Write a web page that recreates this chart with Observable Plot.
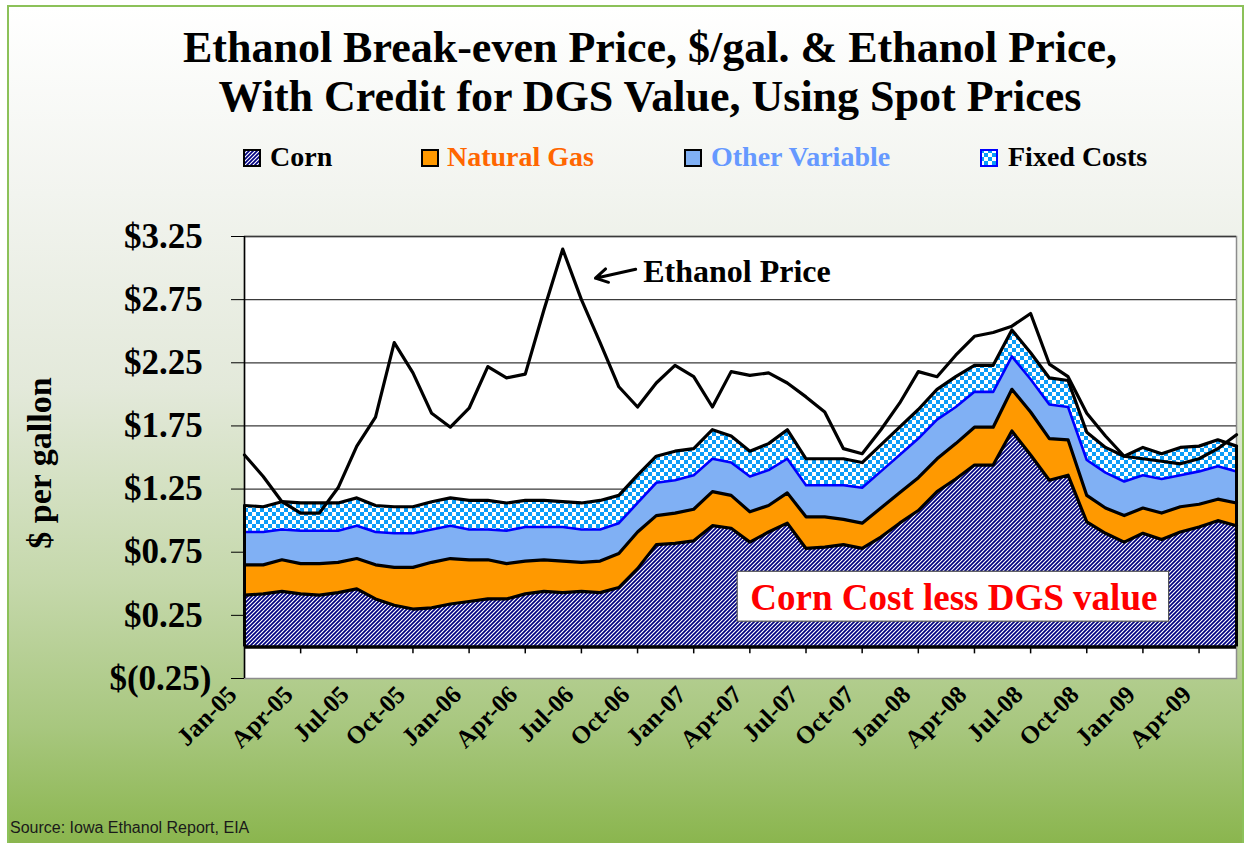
<!DOCTYPE html>
<html>
<head>
<meta charset="utf-8">
<script src="https://cdn.jsdelivr.net/npm/d3@7"></script>
<script src="https://cdn.jsdelivr.net/npm/@observablehq/plot@0.6"></script>
<style>
  html, body { margin: 0; padding: 0; background: #ffffff; }
  #wrap { position: relative; width: 1246px; height: 843px; overflow: hidden; background: #ffffff; }
  #bg { position: absolute; left: 7px; top: 5px; width: 1237px; height: 850px; box-sizing: border-box;
        border: 2px solid #8cc159;
        background: linear-gradient(to bottom, #ffffff 0%, #f2f4ef 22%, #e3e9da 45%, #c5d8ab 68%, #a8c77f 85%, #88b44a 100%); }
  .serif { font-family: "Liberation Serif", "Times New Roman", serif; font-weight: bold; }
  .title { position: absolute; left: 0; width: 1300px; text-align: center; font-size: 44px; line-height: 44px; color: #000; white-space: nowrap; }
  .leg { position: absolute; top: 143px; font-size: 28px; line-height: 28px; white-space: nowrap; }
  .icon { position: absolute; top: 149px; width: 18px; height: 18px; }
  #ytitle { position: absolute; left: 40px; top: 463px; transform: translate(-50%, -50%) rotate(-90deg); font-size: 34px; white-space: nowrap; }
  #source { position: absolute; left: 10px; top: 819px; font-family: "Liberation Sans", Arial, sans-serif; font-size: 16px; color: #1a1a1a; white-space: nowrap; }
  #chart { position: absolute; left: 0; top: 0; }
  #chart svg text { font-weight: bold; }
</style>
</head>
<body>
<svg width="0" height="0" style="position:absolute">
  <defs>
    <pattern id="cornHatch" patternUnits="userSpaceOnUse" width="4" height="4">
      <rect width="4" height="4" fill="#ffffff"/>
      <path d="M-1,1 l2,-2 M0,4 l4,-4 M3,5 l2,-2" stroke="#000080" stroke-width="1.7"/>
    </pattern>
    <pattern id="fixedCheck" patternUnits="userSpaceOnUse" width="8" height="8">
      <rect width="8" height="8" fill="#ffffff"/>
      <rect width="4" height="4" fill="#0a9cf8"/>
      <rect x="4" y="4" width="4" height="4" fill="#0a9cf8"/>
    </pattern>
  </defs>
</svg>
<div id="wrap">
  <div id="bg"></div>
  <div id="chart"></div>
  <div class="title serif" style="top:26px">Ethanol Break-even Price, $/gal. &amp; Ethanol Price,</div>
  <div class="title serif" style="top:75px">With Credit for DGS Value, Using Spot Prices</div>

  <svg class="icon" style="left:243px" viewBox="0 0 18 18"><rect x="1" y="1" width="16" height="16" fill="url(#cornHatch)" stroke="#000" stroke-width="2"/></svg>
  <div class="leg serif" style="left:270px;color:#000">Corn</div>
  <svg class="icon" style="left:421px" viewBox="0 0 18 18"><rect x="1" y="1" width="16" height="16" fill="#ff9900" stroke="#000" stroke-width="2"/></svg>
  <div class="leg serif" style="left:447px;color:#ff6600">Natural Gas</div>
  <svg class="icon" style="left:684px" viewBox="0 0 18 18"><rect x="1" y="1" width="16" height="16" fill="#80b0f4" stroke="#000" stroke-width="2"/></svg>
  <div class="leg serif" style="left:711px;color:#6699ff">Other Variable</div>
  <svg class="icon" style="left:980px" viewBox="0 0 18 18"><rect x="1" y="1" width="16" height="16" fill="url(#fixedCheck)" stroke="#0000ff" stroke-width="2"/></svg>
  <div class="leg serif" style="left:1008px;color:#000">Fixed Costs</div>

  <div id="ytitle" class="serif">$ per gallon</div>
  <div id="source">Source: Iowa Ethanol Report, EIA</div>
</div>
<script>
// ---- data, $ per gallon, monthly Jan-05 .. Jun-09 ----
const months = [
  "Jan-05","Feb-05","Mar-05","Apr-05","May-05","Jun-05","Jul-05","Aug-05","Sep-05","Oct-05","Nov-05","Dec-05",
  "Jan-06","Feb-06","Mar-06","Apr-06","May-06","Jun-06","Jul-06","Aug-06","Sep-06","Oct-06","Nov-06","Dec-06",
  "Jan-07","Feb-07","Mar-07","Apr-07","May-07","Jun-07","Jul-07","Aug-07","Sep-07","Oct-07","Nov-07","Dec-07",
  "Jan-08","Feb-08","Mar-08","Apr-08","May-08","Jun-08","Jul-08","Aug-08","Sep-08","Oct-08","Nov-08","Dec-08",
  "Jan-09","Feb-09","Mar-09","Apr-09","May-09","Jun-09"
];
// Corn cost less DGS value
const corn = [
  0.41,0.42,0.44,0.42,0.41,0.43,0.46,0.38,0.33,0.30,0.31,0.34,
  0.36,0.38,0.38,0.42,0.44,0.43,0.44,0.43,0.47,0.62,0.81,0.82,
  0.84,0.96,0.94,0.83,0.91,0.98,0.78,0.79,0.81,0.78,0.87,0.98,
  1.08,1.23,1.33,1.44,1.44,1.71,1.52,1.32,1.36,0.99,0.90,0.83,
  0.90,0.85,0.91,0.95,1.00,0.96
];
const naturalGas = [
  0.24,0.23,0.25,0.24,0.25,0.24,0.24,0.27,0.30,0.33,0.36,0.36,
  0.33,0.31,0.28,0.26,0.25,0.25,0.23,0.25,0.27,0.29,0.23,0.24,
  0.25,0.27,0.26,0.24,0.21,0.24,0.25,0.24,0.20,0.20,0.23,0.24,
  0.26,0.26,0.28,0.30,0.30,0.33,0.34,0.33,0.28,0.21,0.20,0.21,
  0.20,0.21,0.20,0.18,0.17,0.18
];
const otherVariable = [
  0.26,0.26,0.24,0.26,0.26,0.25,0.26,0.26,0.27,0.27,0.26,0.26,
  0.24,0.24,0.26,0.27,0.26,0.27,0.26,0.25,0.24,0.23,0.26,0.26,
  0.27,0.26,0.26,0.28,0.28,0.27,0.25,0.25,0.27,0.28,0.29,0.30,
  0.31,0.31,0.29,0.28,0.28,0.26,0.26,0.27,0.26,0.28,0.28,0.27,
  0.26,0.27,0.25,0.26,0.26,0.25
];
const fixedCosts = [
  0.21,0.20,0.22,0.22,0.22,0.22,0.22,0.21,0.21,0.21,0.22,0.22,
  0.23,0.23,0.22,0.21,0.21,0.20,0.21,0.23,0.22,0.22,0.21,0.23,
  0.21,0.23,0.21,0.20,0.21,0.23,0.21,0.21,0.21,0.20,0.21,0.22,
  0.23,0.24,0.24,0.21,0.21,0.21,0.21,0.21,0.21,0.22,0.20,0.20,
  0.22,0.20,0.22,0.20,0.21,0.20
];
const ethanolPrice = [
  1.52,1.35,1.15,1.06,1.06,1.26,1.59,1.82,2.41,2.17,1.85,1.74,
  1.89,2.22,2.13,2.16,2.67,3.15,2.75,2.41,2.06,1.90,2.09,2.23,
  2.14,1.90,2.18,2.15,2.17,2.09,1.98,1.86,1.57,1.53,1.72,1.93,
  2.18,2.14,2.31,2.46,2.49,2.54,2.64,2.24,2.14,1.85,1.67,1.51,
  1.49,1.47,1.45,1.49,1.57,1.68
];
const yTicks = [-0.25, 0.25, 0.75, 1.25, 1.75, 2.25, 2.75, 3.25];
const xTickIdx = [0,3,6,9,12,15,18,21,24,27,30,33,36,39,42,45,48,51];
const ethanolLabel = [{x: 21.3, y: 2.97, text: "Ethanol Price"}];
const ethanolArrow = [{x1: 20.9, y1: 2.99, x2: 18.75, y2: 2.92}];
const cornBox = [{x1: 26.35, x2: 49.4, y1: 0.2, y2: 0.595, cx: 37.9, cy: 0.385, text: "Corn Cost less DGS value"}];

// table for the stacked areas
const rows = months.map((label, i) => {
  const c1 = corn[i];
  const c2 = c1 + naturalGas[i];
  const c3 = c2 + otherVariable[i];
  const c4 = c3 + fixedCosts[i];
  return {i, label, c0: 0, c1, c2, c3, c4, eth: ethanolPrice[i]};
});

const fmt = v => v < 0 ? `$(${(-v).toFixed(2)})` : `$${v.toFixed(2)}\u00A0`;
const yMin = yTicks[0];

const chart = Plot.plot({
  width: 1246,
  height: 843,
  marginLeft: 244,
  marginRight: 10,
  marginTop: 236,
  marginBottom: 165,
  x: {type: "linear", domain: [0, 53], axis: null},
  y: {domain: [-0.25, 3.25]},
  style: {fontFamily: "'Liberation Serif', 'Times New Roman', serif", background: "transparent", overflow: "visible", color: "black"},
  marks: [
    Plot.frame({fill: "white", stroke: "#8c8c8c", strokeWidth: 1.5}),
    Plot.ruleY(yTicks.slice(1), {stroke: "#3a3a3a", strokeWidth: 1.3}),
    Plot.areaY(rows, {x: "i", y1: "c0", y2: "c1", fill: "url(#cornHatch)"}),
    Plot.areaY(rows, {x: "i", y1: "c1", y2: "c2", fill: "#ff9900"}),
    Plot.areaY(rows, {x: "i", y1: "c2", y2: "c3", fill: "#80b0f4"}),
    Plot.areaY(rows, {x: "i", y1: "c3", y2: "c4", fill: "url(#fixedCheck)"}),
    Plot.lineY(rows, {x: "i", y: "c1", stroke: "black", strokeWidth: 3.2, strokeLinejoin: "round"}),
    Plot.lineY(rows, {x: "i", y: "c2", stroke: "black", strokeWidth: 3.2, strokeLinejoin: "round"}),
    Plot.lineY(rows, {x: "i", y: "c3", stroke: "#0000ff", strokeWidth: 2.6, strokeLinejoin: "round"}),
    Plot.lineY(rows, {x: "i", y: "c4", stroke: "black", strokeWidth: 3.2, strokeLinejoin: "round"}),
    Plot.ruleY([0], {stroke: "black", strokeWidth: 3.5}),
    Plot.ruleX([rows[0], rows[rows.length - 1]], {x: "i", y1: "c0", y2: "c4", stroke: "black", strokeWidth: 3}),
    Plot.ruleX(xTickIdx.slice(1), {x: d => d, y1: 0, y2: -0.055, stroke: "black", strokeWidth: 1.5}),
    Plot.lineY(rows, {x: "i", y: "eth", stroke: "black", strokeWidth: 3.2, strokeLinejoin: "round"}),
    Plot.ruleX([0], {stroke: "black", strokeWidth: 1.5}),
    Plot.rect(cornBox, {x1: "x1", x2: "x2", y1: "y1", y2: "y2", fill: "white", stroke: "#555", strokeWidth: 1.2}),
    Plot.text(cornBox, {x: "cx", y: "cy", text: "text", fontSize: 37, fontWeight: "bold", fill: "#ff0000"}),
    Plot.text(ethanolLabel, {x: "x", y: "y", text: "text", textAnchor: "start", fontSize: 32, fontWeight: "bold", fill: "black"}),
    Plot.arrow(ethanolArrow, {x1: "x1", y1: "y1", x2: "x2", y2: "y2", stroke: "black", strokeWidth: 3, headLength: 12}),
    Plot.axisY({ticks: yTicks, tickFormat: fmt, tickSize: 13, tickPadding: 20, fontSize: 35, fontWeight: "bold", label: null, stroke: "black"}),
    // rotated month labels below the plot area
    Plot.text(xTickIdx, {x: d => d, y: yMin, text: d => months[d], rotate: -45, textAnchor: "end", lineAnchor: "middle",
                         dx: -12, dy: 12, fontSize: 25, fontWeight: "bold", fill: "black"})
  ]
});
document.getElementById("chart").appendChild(chart);
</script>
</body>
</html>
